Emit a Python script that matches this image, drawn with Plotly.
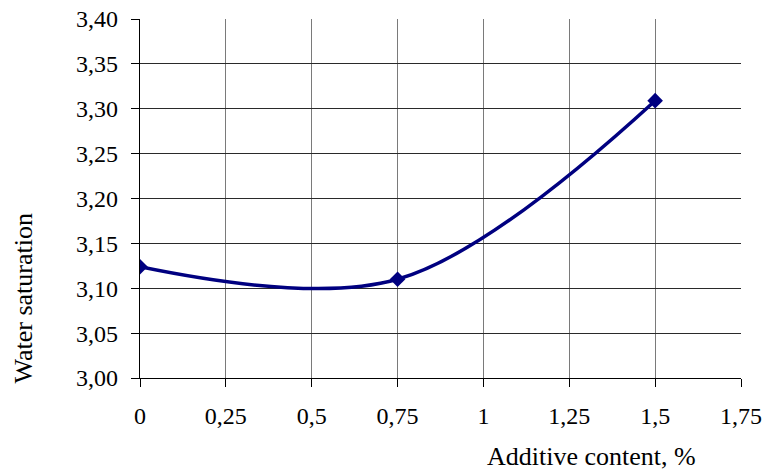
import plotly.graph_objects as go

# Measured water saturation versus additive content
additive = [0, 0.75, 1.5]
saturation = [3.124, 3.110, 3.309]

x_ticks = [0, 0.25, 0.5, 0.75, 1, 1.25, 1.5, 1.75]
x_labels = ["0", "0,25", "0,5", "0,75", "1", "1,25", "1,5", "1,75"]
y_ticks = [3.00, 3.05, 3.10, 3.15, 3.20, 3.25, 3.30, 3.35, 3.40]
y_labels = ["3,00", "3,05", "3,10", "3,15", "3,20", "3,25", "3,30", "3,35", "3,40"]

font_family = "Liberation Serif"
tick_size = 24
title_size = 26

fig = go.Figure()
fig.add_trace(go.Scatter(
    x=additive, y=saturation,
    mode="lines+markers",
    line=dict(color="#000080", width=3.5, shape="spline", smoothing=1.0),
    marker=dict(symbol="diamond", size=12, color="#000080"),
    showlegend=False,
))

fig.update_layout(
    width=765, height=473,
    margin=dict(l=140, r=24, t=19, b=95),
    paper_bgcolor="white", plot_bgcolor="white",
    font=dict(family=font_family, size=tick_size, color="black"),
    xaxis=dict(
        range=[0, 1.75], tickvals=x_ticks, ticktext=x_labels, automargin=False,
        tickfont=dict(family=font_family, size=tick_size),
        showgrid=True, gridcolor="#7a7a7a", gridwidth=1.3,
        showline=True, linecolor="black", linewidth=1.3,
        ticks="outside", ticklen=8, tickcolor="black", tickwidth=1.3,
        ticklabelstandoff=8, zeroline=False,
    ),
    yaxis=dict(
        range=[3.0, 3.4], tickvals=y_ticks, ticktext=y_labels, automargin=False,
        tickfont=dict(family=font_family, size=tick_size),
        showgrid=True, gridcolor="#2a2a2a", gridwidth=1.3,
        showline=True, linecolor="black", linewidth=1.3,
        ticks="outside", ticklen=8, tickcolor="black", tickwidth=1.3,
        ticklabelstandoff=8, zeroline=False,
    ),
    annotations=[
        dict(text="Additive content, %", xref="paper", yref="paper",
             x=0.751, y=-0.219, xanchor="center", yanchor="middle",
             showarrow=False, font=dict(family=font_family, size=title_size)),
        dict(text="Water saturation", xref="paper", yref="paper",
             x=-0.193, y=0.2214, xanchor="center", yanchor="middle",
             textangle=-90, showarrow=False, font=dict(family=font_family, size=title_size)),
    ],
)

fig.write_html("out.html")
